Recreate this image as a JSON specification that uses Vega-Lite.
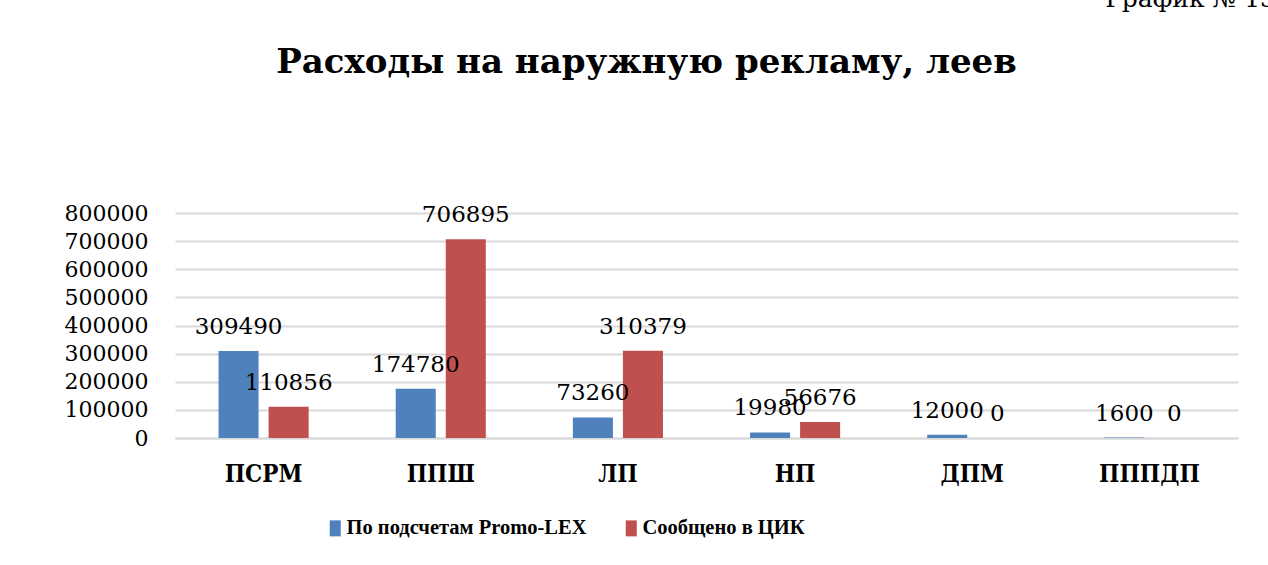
{
  "$schema": "https://vega.github.io/schema/vega-lite/v6.json",
  "autosize": {"type": "none"},
  "width": 1063,
  "height": 225,
  "padding": {"left": 175, "top": 213, "right": 30, "bottom": 127},
  "background": "white",
  "title": {
    "text": "График № 13",
    "font": "DejaVu Serif",
    "fontSize": 25,
    "fontWeight": "normal",
    "color": "#000000",
    "anchor": "end",
    "frame": "group",
    "dx": 38,
    "offset": 33
  },
  "data": {
    "values": [
      {"party": "ПСРМ", "series": "По подсчетам Promo-LEX", "value": 309490},
      {"party": "ПСРМ", "series": "Сообщено в ЦИК", "value": 110856},
      {"party": "ППШ", "series": "По подсчетам Promo-LEX", "value": 174780},
      {"party": "ППШ", "series": "Сообщено в ЦИК", "value": 706895},
      {"party": "ЛП", "series": "По подсчетам Promo-LEX", "value": 73260},
      {"party": "ЛП", "series": "Сообщено в ЦИК", "value": 310379},
      {"party": "НП", "series": "По подсчетам Promo-LEX", "value": 19980},
      {"party": "НП", "series": "Сообщено в ЦИК", "value": 56676},
      {"party": "ДПМ", "series": "По подсчетам Promo-LEX", "value": 12000},
      {"party": "ДПМ", "series": "Сообщено в ЦИК", "value": 0},
      {"party": "ПППДП", "series": "По подсчетам Promo-LEX", "value": 1600},
      {"party": "ПППДП", "series": "Сообщено в ЦИК", "value": 0}
    ]
  },
  "encoding": {
    "x": {
      "field": "party",
      "type": "nominal",
      "sort": ["ПСРМ", "ППШ", "ЛП", "НП", "ДПМ", "ПППДП"],
      "scale": {"paddingInner": 0.4915, "paddingOuter": 0.2458},
      "axis": {
        "title": null,
        "labelAngle": 0,
        "labelFont": "DejaVu Serif Condensed",
        "labelFontWeight": "bold",
        "labelFontSize": 24,
        "labelColor": "#000000",
        "labelPadding": 24,
        "ticks": false,
        "domainColor": "#d9d9d9",
        "domainWidth": 2
      }
    },
    "xOffset": {
      "field": "series",
      "type": "nominal",
      "sort": ["По подсчетам Promo-LEX", "Сообщено в ЦИК"],
      "scale": {"paddingInner": 0.2, "paddingOuter": 0}
    },
    "y": {
      "field": "value",
      "type": "quantitative",
      "scale": {"domain": [0, 800000], "nice": false},
      "axis": {
        "title": "Расходы на наружную рекламу, леев",
        "titleAngle": 0,
        "titleX": 471,
        "titleY": -141,
        "titleAlign": "center",
        "titleBaseline": "alphabetic",
        "titleFont": "DejaVu Serif",
        "titleFontSize": 34,
        "titleFontWeight": "bold",
        "titleColor": "#000000",
        "values": [0, 100000, 200000, 300000, 400000, 500000, 600000, 700000, 800000],
        "format": "d",
        "labelFont": "DejaVu Serif",
        "labelFontSize": 22,
        "labelColor": "#000000",
        "labelPadding": 27,
        "ticks": false,
        "domain": false,
        "gridColor": "#d9d9d9",
        "gridWidth": 2
      }
    }
  },
  "layer": [
    {
      "mark": {"type": "bar"},
      "encoding": {
        "color": {
          "field": "series",
          "type": "nominal",
          "sort": ["По подсчетам Promo-LEX", "Сообщено в ЦИК"],
          "scale": {"range": ["#4f81bd", "#c0504d"]},
          "legend": {
            "title": null,
            "orient": "none",
            "legendX": 150,
            "legendY": 305,
            "direction": "horizontal",
            "symbolType": "M-0.69,-1H0.69V1H-0.69Z",
            "symbolSize": 256,
            "symbolStrokeWidth": 0,
            "labelFont": "Liberation Serif",
            "labelFontWeight": "bold",
            "labelFontSize": 20.5,
            "labelColor": "#000000",
            "labelLimit": 400,
            "labelOffset": 1,
            "columnPadding": 34
          }
        }
      }
    },
    {
      "mark": {
        "type": "text",
        "dy": -24,
        "font": "DejaVu Serif",
        "fontSize": 23,
        "color": "#000000",
        "baseline": "middle"
      },
      "encoding": {
        "text": {"field": "value", "type": "quantitative", "format": "d"}
      }
    }
  ],
  "config": {"view": {"stroke": null}}
}
